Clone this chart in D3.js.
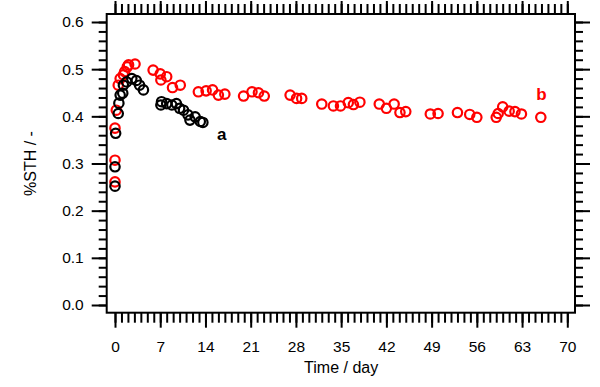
<!DOCTYPE html>
<html>
<head>
<meta charset="utf-8">
<script src="https://cdn.jsdelivr.net/npm/d3@7"></script>
<style>
  body { margin: 0; background: #fff; }
  svg text { font-family: "Liberation Sans", Arial, sans-serif; }
</style>
</head>
<body>
<div class="canvas"></div>
<script>
// data (day, %STH)
const aDays = [0, 0, 0.1, 0.5, 0.6, 0.8, 1.2, 1.3, 1.8, 2.6, 3.3, 3.8, 4.4,
  7.1, 7.2, 8.0, 8.8, 9.5, 10.0, 10.6, 11.3, 11.6, 12.4, 13.2, 13.6];
const aVals = [0.252, 0.293, 0.364, 0.406, 0.428, 0.445, 0.449, 0.466, 0.473, 0.480, 0.476, 0.466, 0.456,
  0.424, 0.431, 0.427, 0.424, 0.427, 0.417, 0.413, 0.403, 0.392, 0.399, 0.389, 0.387];

const bDays = [0, 0, 0, 0.2, 0.5, 0.8, 1.3, 1.5, 1.9, 2.1, 3.1,
  5.9, 7.0, 7.1, 8.0, 8.9, 10.1, 12.9, 14.1, 15.1, 16.0, 17.0,
  19.9, 21.2, 22.2, 23.1, 27.1, 28.1, 28.9, 32.0, 33.8, 34.9, 36.1, 36.9, 37.9,
  40.9, 42.0, 43.2, 44.1, 45.0, 48.8, 50.0, 53.0, 54.9, 56.0,
  59.0, 59.3, 60.0, 61.0, 61.9, 62.9, 65.9];
const bVals = [0.261, 0.307, 0.375, 0.413, 0.466, 0.480, 0.488, 0.495, 0.505, 0.509, 0.511,
  0.498, 0.490, 0.477, 0.484, 0.461, 0.466, 0.452, 0.454, 0.456, 0.445, 0.447,
  0.443, 0.452, 0.450, 0.443, 0.445, 0.438, 0.438, 0.426, 0.422, 0.422, 0.429, 0.425, 0.430,
  0.426, 0.417, 0.426, 0.408, 0.410, 0.405, 0.406, 0.408, 0.404, 0.398,
  0.398, 0.406, 0.420, 0.411, 0.410, 0.405, 0.398];

const xTicks = [0, 7, 14, 21, 28, 35, 42, 49, 56, 63, 70];
const yTicks = [0, 0.1, 0.2, 0.3, 0.4, 0.5, 0.6];

const series = [
  { name: "b", color: "#ff0000", days: bDays, vals: bVals, label: [65.2, 0.435] },
  { name: "a", color: "#000000", days: aDays, vals: aVals, label: [15.8, 0.350] }
];

const width = 600, height = 387;
const frame = { left: 106.7, right: 575, top: 14, bottom: 312.7 };

const svg = d3.select(".canvas").append("svg")
  .attr("width", width).attr("height", height);

const x = d3.scaleLinear().domain([0, 70]).range([115, 567.3]);
const y = d3.scaleLinear().domain([0, 0.6]).range([305, 22]);

const minorX = d3.range(0, 70.5, 1);
const minorY = d3.range(0, 0.601, 0.02);

// axes: major ticks + minor ticks, all pointing out of the frame
function styleAxis(g) {
  g.select(".domain").remove();
  g.selectAll(".tick line").attr("stroke", "#000").attr("stroke-width", 2);
  g.selectAll("text").attr("fill", "#000").style("font-size", "15.5px");
}

// bottom
svg.append("g").attr("transform", `translate(0,${frame.bottom})`)
  .call(d3.axisBottom(x).tickValues(minorX).tickSize(10).tickFormat(""))
  .call(styleAxis);
svg.append("g").attr("transform", `translate(0,${frame.bottom})`)
  .call(d3.axisBottom(x).tickValues(xTicks).tickSize(15).tickPadding(13).tickFormat(d3.format("d")))
  .call(styleAxis);

// top
svg.append("g").attr("transform", `translate(0,${frame.top})`)
  .call(d3.axisTop(x).tickValues(minorX).tickSize(10).tickFormat(""))
  .call(styleAxis);
svg.append("g").attr("transform", `translate(0,${frame.top})`)
  .call(d3.axisTop(x).tickValues(xTicks).tickSize(13).tickFormat(""))
  .call(styleAxis);

// left
svg.append("g").attr("transform", `translate(${frame.left},0)`)
  .call(d3.axisLeft(y).tickValues(minorY).tickSize(8).tickFormat(""))
  .call(styleAxis);
svg.append("g").attr("transform", `translate(${frame.left},0)`)
  .call(d3.axisLeft(y).tickValues(yTicks).tickSize(15).tickPadding(8).tickFormat(d3.format(".1f")))
  .call(styleAxis);

// right
svg.append("g").attr("transform", `translate(${frame.right},0)`)
  .call(d3.axisRight(y).tickValues(minorY).tickSize(8).tickFormat(""))
  .call(styleAxis);
svg.append("g").attr("transform", `translate(${frame.right},0)`)
  .call(d3.axisRight(y).tickValues(yTicks).tickSize(15).tickFormat(""))
  .call(styleAxis);

// frame
svg.append("rect")
  .attr("x", frame.left).attr("y", frame.top)
  .attr("width", frame.right - frame.left)
  .attr("height", frame.bottom - frame.top)
  .attr("fill", "none").attr("stroke", "#000").attr("stroke-width", 2);

// points
series.forEach((s) => {
  const pts = s.days.map((d, i) => ({ day: d, v: s.vals[i] }));
  svg.append("g").selectAll("circle").data(pts).enter()
    .append("circle")
    .attr("cx", (d) => x(d.day))
    .attr("cy", (d) => y(d.v))
    .attr("r", 4.7)
    .attr("fill", "none")
    .attr("stroke", s.color)
    .attr("stroke-width", 2.2);

  svg.append("text")
    .attr("x", x(s.label[0]))
    .attr("y", y(s.label[1]))
    .attr("fill", s.color)
    .style("font-size", "17px")
    .style("font-weight", "bold")
    .text(s.name);
});

// axis titles
svg.append("text")
  .attr("x", (x(0) + x(70)) / 2)
  .attr("y", 373)
  .attr("text-anchor", "middle")
  .style("font-size", "16px")
  .text("Time / day");

svg.append("text")
  .attr("transform", `translate(36,${(y(0) + y(0.6)) / 2}) rotate(-90)`)
  .attr("text-anchor", "middle")
  .style("font-size", "16px")
  .text("%STH / -");
</script>
</body>
</html>
